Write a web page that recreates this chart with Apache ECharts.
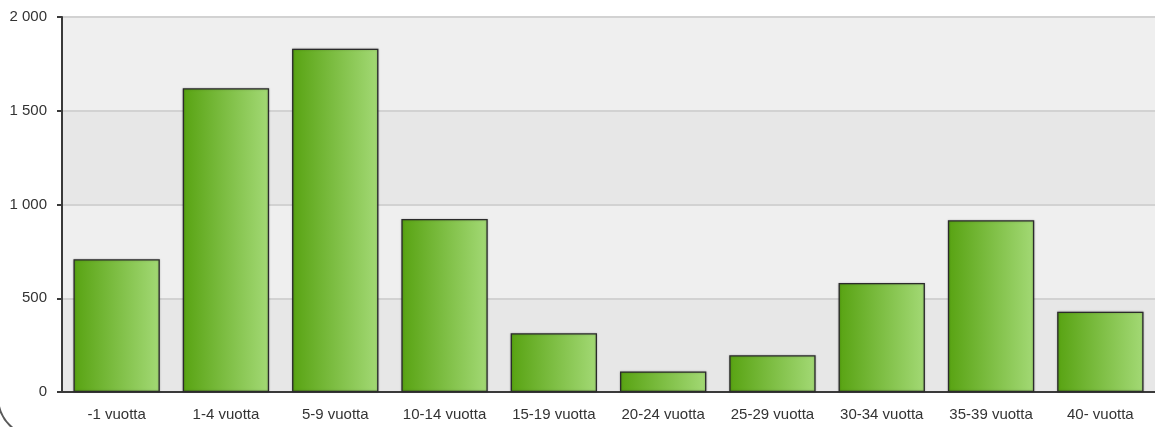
<!DOCTYPE html>
<html>
<head>
<meta charset="utf-8">
<script src="https://cdn.jsdelivr.net/npm/echarts@6/dist/echarts.min.js"></script>
<style>
html,body{margin:0;padding:0;background:#fff;}
#main{width:1155px;height:427px;}
</style>
</head>
<body>
<div id="main"></div>
<script>
var categories = ['-1 vuotta', '1-4 vuotta', '5-9 vuotta', '10-14 vuotta', '15-19 vuotta',
    '20-24 vuotta', '25-29 vuotta', '30-34 vuotta', '35-39 vuotta', '40- vuotta']
var values = [708, 1620, 1831, 923, 313, 110, 196, 581, 916, 428]
var yTicks = [0, 500, 1000, 1500, 2000]

var chart = echarts.init(document.getElementById('main'))

var option = {
    animation: false,
    backgroundColor: '#fff',
    grid: {
        left: 62,
        width: 1097,
        top: 17,
        bottom: 35
    },
    xAxis: {
        type: 'category',
        data: categories,
        axisLine: {
            lineStyle: { color: '#3a3a3a', width: 2 }
        },
        axisTick: {
            alignWithLabel: true,
            length: 6,
            lineStyle: { color: '#3a3a3a', width: 2 }
        },
        axisLabel: {
            color: '#333',
            fontFamily: 'Liberation Sans',
            fontSize: 15,
            margin: 15,
            interval: 0
        }
    },
    yAxis: {
        type: 'value',
        min: yTicks[0],
        max: yTicks[yTicks.length - 1],
        interval: 500,
        axisLine: {
            show: true,
            lineStyle: { color: '#3a3a3a', width: 2 }
        },
        axisTick: {
            show: true,
            length: 5,
            lineStyle: { color: '#3a3a3a', width: 2 }
        },
        axisLabel: {
            color: '#333',
            fontFamily: 'Liberation Sans',
            fontSize: 15,
            margin: 15,
            formatter: function (v) {
                return String(v).replace(/\B(?=(\d{3})+(?!\d))/g, ' ')
            }
        },
        splitLine: {
            show: true,
            lineStyle: { color: '#d2d2d2', width: 2 }
        },
        splitArea: {
            show: true,
            areaStyle: { color: ['#e7e7e7', '#efefef'] }
        }
    },
    series: [{
        type: 'bar',
        data: values,
        barCategoryGap: '21%',
        itemStyle: {
            color: new echarts.graphic.LinearGradient(0, 0, 1, 0, [
                { offset: 0, color: '#58a312' },
                { offset: 1, color: '#a3d975' }
            ]),
            borderColor: '#2b2b2b',
            borderWidth: 1.3,
            shadowBlur: 2,
            shadowColor: 'rgba(0,0,0,0.25)'
        }
    }],
    graphic: [{
        type: 'rect',
        silent: true,
        shape: { x: -2, y: -100, width: 1220, height: 537, r: 40 },
        style: { fill: 'none', stroke: '#5a5a5a', lineWidth: 2 }
    }]
}

chart.setOption(option)
</script>
</body>
</html>
